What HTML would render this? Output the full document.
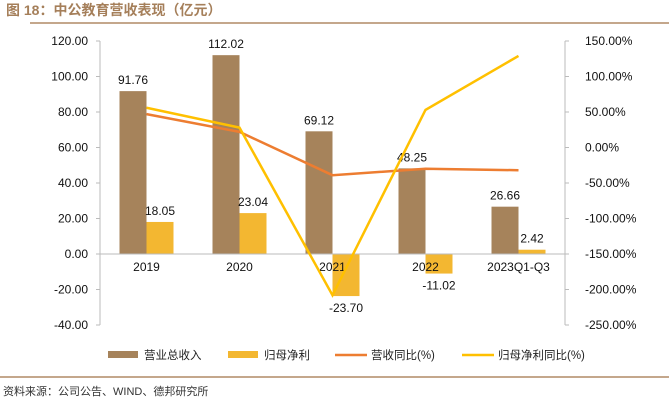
<!DOCTYPE html>
<html><head><meta charset="utf-8"><style>
body{margin:0;background:#fff;width:669px;height:400px;overflow:hidden;font-family:"Liberation Sans","Noto Sans CJK SC",sans-serif}
</style></head><body>
<svg id="c" width="669" height="400" xmlns="http://www.w3.org/2000/svg">
<text x="6" y="15" font-size="14" font-weight="bold" fill="#a57f5a" font-family="Liberation Sans,Noto Sans CJK SC,sans-serif">图 18：中公教育营收表现（亿元）</text>
<line x1="30" y1="23" x2="669" y2="23" stroke="#b08a66" stroke-width="1.5"/>
<line x1="0" y1="377" x2="669" y2="377" stroke="#b08a66" stroke-width="1.5"/>
<text x="3" y="395" font-size="11" fill="#333">资料来源：公司公告、WIND、德邦研究所</text>
</svg>
<script>
const categories=["2019","2020","2021","2022","2023Q1-Q3"];
const revenue=[91.76,112.02,69.12,48.25,26.66];
const netProfit=[18.05,23.04,-23.70,-11.02,2.42];
const revenueYoY=[47,22,-39,-30,-32];
const profitYoY=[56,28,-208,53,129];
const leftTicks=[120,100,80,60,40,20,0,-20,-40];
const rightTicks=[150,100,50,0,-50,-100,-150,-200,-250];
const svg=document.getElementById('c');const NS="http://www.w3.org/2000/svg";
function mk(t,a,p){const e=document.createElementNS(NS,t);for(const k in a)e.setAttribute(k,a[k]);(p||svg).appendChild(e);return e;}
const yTop=41,yBot=325,x0=100,x1=565;
const yL=v=>yTop+(120-v)/160*(yBot-yTop);
const yR=v=>yTop+(150-v)/400*(yBot-yTop);
const gw=(x1-x0)/categories.length;
const xc=i=>x0+gw*(i+0.5);
const bw=27;
mk('line',{x1:x0,y1:yTop,x2:x0,y2:yBot,stroke:'#bbb'});
mk('line',{x1:x1,y1:yTop,x2:x1,y2:yBot,stroke:'#bbb'});
leftTicks.forEach(v=>{const y=yL(v);
mk('line',{x1:x0-4,y1:y,x2:x0,y2:y,stroke:'#bbb'});
const t=mk('text',{x:88,y:y+4,'text-anchor':'end','font-size':12,fill:'#111'});t.textContent=v.toFixed(2);

});
rightTicks.forEach(v=>{const y=yR(v);
mk('line',{x1:x1,y1:y,x2:x1+4,y2:y,stroke:'#bbb'});
const t=mk('text',{x:585,y:y+4,'font-size':12,fill:'#111'});t.textContent=v.toFixed(2)+'%';

});
categories.forEach((c,i)=>{
const r=mk('rect',{x:xc(i)-bw,y:Math.min(yL(revenue[i]),yL(0)),width:bw,height:Math.abs(yL(0)-yL(revenue[i])),fill:'#a6835b'});


const p=mk('rect',{x:xc(i),y:Math.min(yL(netProfit[i]),yL(0)),width:bw,height:Math.abs(yL(0)-yL(netProfit[i])),fill:'#f3b731'});


const l1=mk('text',{x:xc(i)-bw/2,y:yL(revenue[i])-7,'text-anchor':'middle','font-size':12,fill:'#111'});l1.textContent=revenue[i].toFixed(2);


const n=netProfit[i];
const l2=mk('text',{x:xc(i)+bw/2,y:n>=0?yL(n)-7:yL(n)+16,'text-anchor':'middle','font-size':12,fill:'#111'});l2.textContent=n.toFixed(2);


});
mk('line',{x1:x0,y1:yL(0),x2:x1,y2:yL(0),stroke:'#bbb'});
categories.forEach((c,i)=>{const t=mk('text',{x:xc(i),y:yL(0)+17,'text-anchor':'middle','font-size':12,fill:'#111'});t.textContent=c;

});
function line(arr,col,name){const pl=mk('polyline',{points:arr.map((v,i)=>xc(i)+','+yR(v)).join(' '),fill:'none',stroke:col,'stroke-width':2.5});

}
line(revenueYoY,'#ed7d31','revenue-yoy-line');
line(profitYoY,'#ffc000','profit-yoy-line');
const leg=[['rect','#a6835b','营业总收入',108],['rect','#f3b731','归母净利',228],['line','#ed7d31','营收同比(%)',335],['line','#ffc000','归母净利同比(%)',462]];
leg.forEach(([k,col,txt,x])=>{const g=mk('g',{});


if(k==='rect')mk('rect',{x:x,y:351,width:30,height:7,fill:col},g);else mk('line',{x1:x,y1:355,x2:x+32,y2:355,stroke:col,'stroke-width':2.5},g);
const t=mk('text',{x:x+36,y:359,'font-size':11.5,fill:'#222'},g);t.textContent=txt;});
</script>
</body></html>
